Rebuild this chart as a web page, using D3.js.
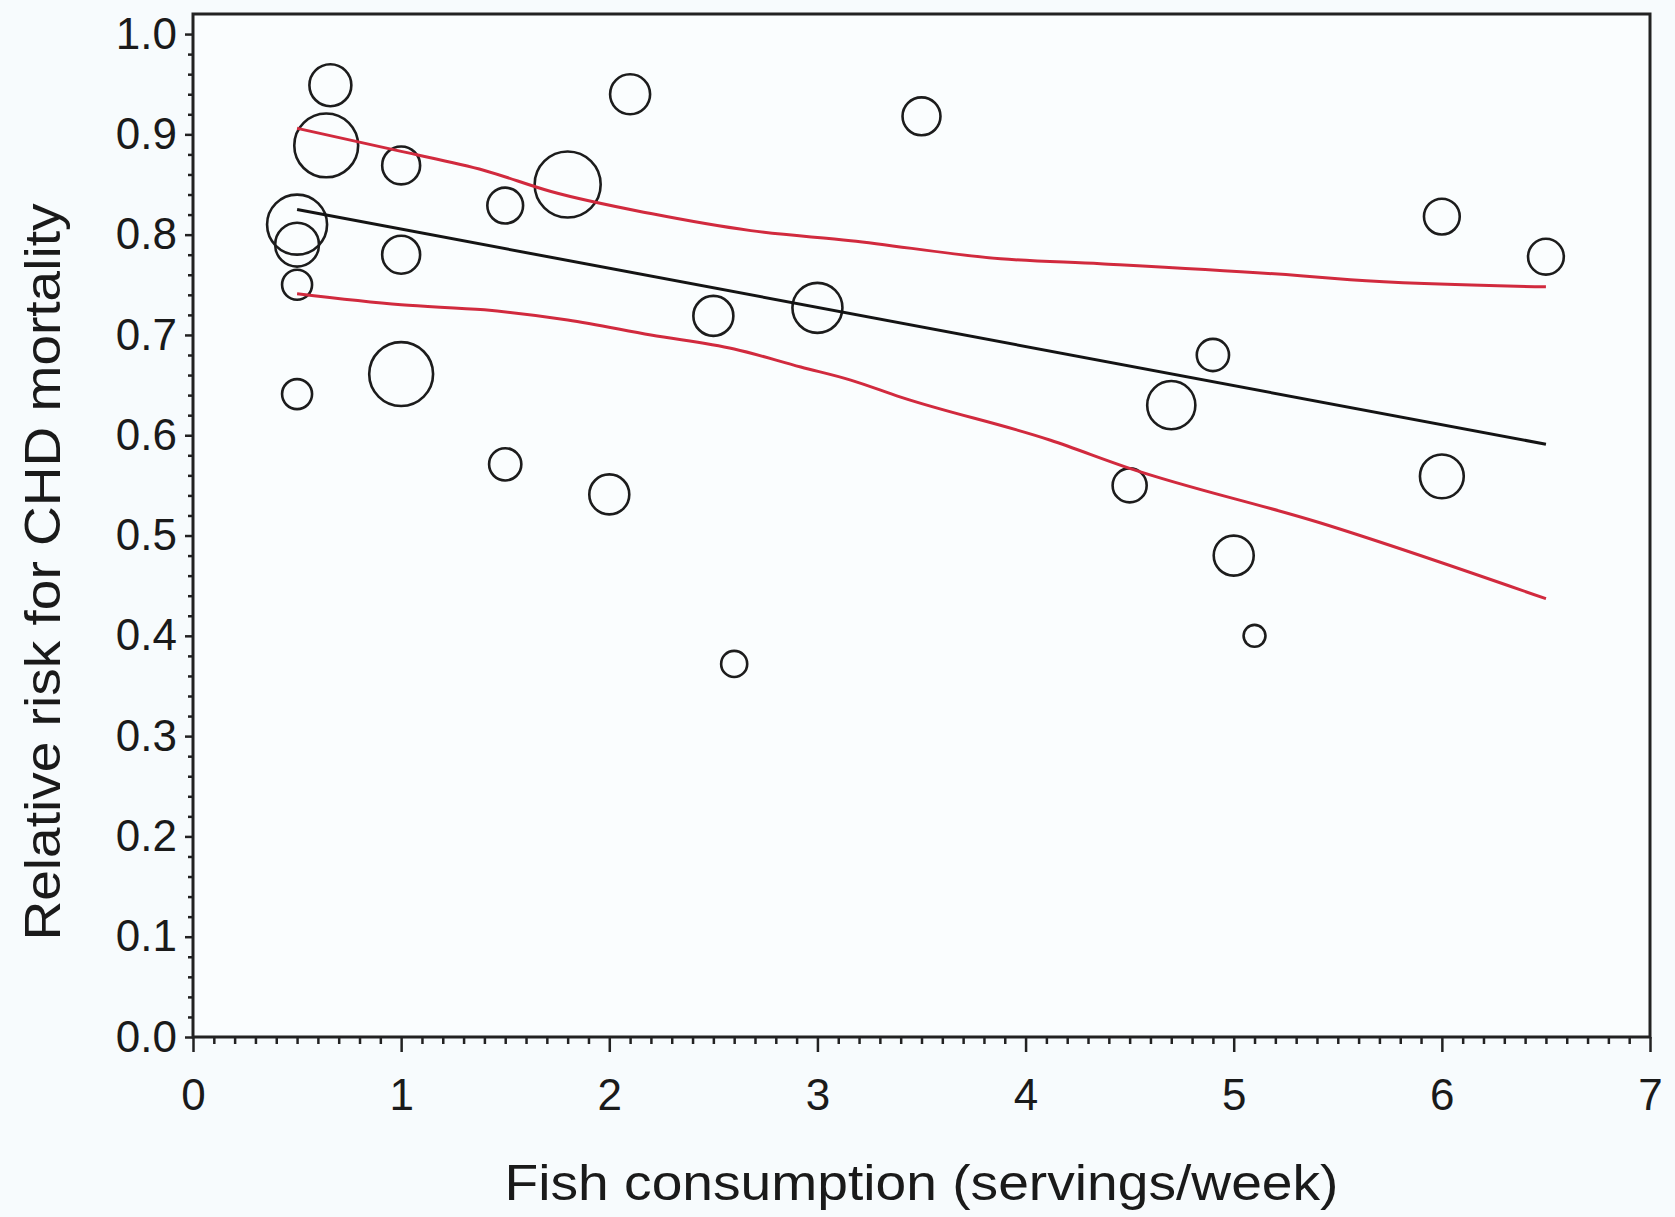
<!DOCTYPE html>
<html><head><meta charset="utf-8">
<script src="https://cdn.jsdelivr.net/npm/d3@7"></script>
<style>
html,body{margin:0;padding:0;background:#f7fbfd;}
svg{display:block;}
</style>
</head><body>
<svg id="chart" width="1675" height="1217"></svg>
<script>
// ---- data ----
const studyX      = [0.66, 0.64, 1.0, 1.5, 1.8, 0.5, 0.5, 0.5, 1.0, 1.0, 0.5, 2.1, 2.5, 3.0, 1.5, 2.0, 2.6, 3.5, 4.9, 4.7, 4.5, 6.0, 5.0, 5.1, 6.0, 6.5];
const studyRR     = [0.949, 0.889, 0.869, 0.829, 0.850, 0.810, 0.790, 0.750, 0.780, 0.661, 0.641, 0.940, 0.719, 0.727, 0.571, 0.541, 0.372, 0.918, 0.680, 0.630, 0.550, 0.559, 0.480, 0.400, 0.818, 0.778];
const studyWeight = [4.4, 10.2, 3.6, 3.2, 10.9, 9.0, 4.8, 2.25, 3.6, 10.2, 2.25, 4.0, 4.0, 6.25, 2.6, 4.0, 1.7, 3.6, 2.6, 5.8, 2.9, 4.8, 4.0, 1.2, 3.2, 3.2];

const fitX   = [0.5, 6.5];
const fitRR  = [0.825, 0.591];
const upperX  = [0.5, 1.0, 1.4, 1.72, 2.2, 2.68, 3.16, 3.88, 4.36, 5.32, 5.56, 6.5];
const upperRR = [0.906, 0.883, 0.864, 0.843, 0.821, 0.804, 0.794, 0.776, 0.771, 0.759, 0.755, 0.748];
const lowerX  = [0.5, 1.0, 1.4, 1.8, 2.2, 2.6, 2.92, 3.16, 3.4, 4.12, 4.5, 5.41, 6.5];
const lowerRR = [0.741, 0.730, 0.725, 0.715, 0.700, 0.686, 0.668, 0.655, 0.638, 0.595, 0.567, 0.513, 0.437];

const xTickValues = [0, 1, 2, 3, 4, 5, 6, 7];
const yTickValues = [0.0, 0.1, 0.2, 0.3, 0.4, 0.5, 0.6, 0.7, 0.8, 0.9, 1.0];
const xTitle = "Fish consumption (servings/week)";
const yTitle = "Relative risk for CHD mortality";

// ---- layout ----
const svg = d3.select("#chart");
const plotLeft = 193, plotRight = 1650, plotTop = 14, plotBottom = 1037;
const x = d3.scaleLinear().domain([0, 7]).range([plotLeft, plotRight]);
const y = d3.scaleLinear().domain([0, 1.02]).range([plotBottom, plotTop]);
const r = d3.scaleSqrt().domain([0, 10]).range([0, 10 * Math.sqrt(10)]);

const font = "'Liberation Sans', Arial, Helvetica, sans-serif";

svg.append("rect").attr("width", 1675).attr("height", 1217).attr("fill", "#f7fbfd");
svg.append("rect").attr("x", plotLeft).attr("y", plotTop).attr("width", plotRight - plotLeft).attr("height", plotBottom - plotTop)
  .attr("fill", "#fafdfe");

// minor ticks
const xMinor = d3.range(0, 71, 1).map(d => d / 10).filter(d => Math.abs(d - Math.round(d)) > 1e-6);
const yMinor = d3.range(0, 51, 1).map(d => d / 50).filter(d => Math.abs(d * 10 - Math.round(d * 10)) > 1e-6);

const gxMinor = svg.append("g").attr("transform", `translate(0,${plotBottom})`)
  .call(d3.axisBottom(x).tickValues(xMinor).tickSize(7).tickFormat(""));
const gyMinor = svg.append("g").attr("transform", `translate(${plotLeft},0)`)
  .call(d3.axisLeft(y).tickValues(yMinor).tickSize(5).tickFormat(""));
[gxMinor, gyMinor].forEach(g => {
  g.select(".domain").remove();
  g.selectAll("line").attr("stroke", "#222").attr("stroke-width", 2.5);
});

// major axes
const gx = svg.append("g").attr("transform", `translate(0,${plotBottom})`)
  .call(d3.axisBottom(x).tickValues(xTickValues).tickSize(15).tickPadding(27).tickFormat(d3.format("d")));
const gy = svg.append("g").attr("transform", `translate(${plotLeft},0)`)
  .call(d3.axisLeft(y).tickValues(yTickValues).tickSize(8).tickPadding(8).tickFormat(d3.format(".1f")));
[gx, gy].forEach(g => {
  g.select(".domain").remove();
  g.selectAll("line").attr("stroke", "#222").attr("stroke-width", 2.5);
  g.selectAll("text").attr("font-family", font).attr("font-size", 44).attr("fill", "#1a1a1a");
});

// frame
svg.append("rect").attr("x", plotLeft).attr("y", plotTop).attr("width", plotRight - plotLeft).attr("height", plotBottom - plotTop)
  .attr("fill", "none").attr("stroke", "#222").attr("stroke-width", 3);

// bubbles
const studies = studyX.map((d, i) => ({x: d, rr: studyRR[i], w: studyWeight[i]}));
svg.append("g").selectAll("circle").data(studies).join("circle")
  .attr("cx", d => x(d.x)).attr("cy", d => y(d.rr)).attr("r", d => r(d.w))
  .attr("fill", "none").attr("stroke", "#1c1c1c").attr("stroke-width", 2.6);

// lines
const line = d3.line().x(d => x(d[0])).y(d => y(d[1])).curve(d3.curveMonotoneX);
svg.append("path").datum(upperX.map((d, i) => [d, upperRR[i]])).attr("d", line)
  .attr("fill", "none").attr("stroke", "#d12a3e").attr("stroke-width", 3);
svg.append("path").datum(lowerX.map((d, i) => [d, lowerRR[i]])).attr("d", line)
  .attr("fill", "none").attr("stroke", "#d12a3e").attr("stroke-width", 3);
svg.append("path").datum(fitX.map((d, i) => [d, fitRR[i]])).attr("d", line)
  .attr("fill", "none").attr("stroke", "#141414").attr("stroke-width", 3);

// titles
svg.append("text").attr("x", (plotLeft + plotRight) / 2).attr("y", 1200)
  .attr("text-anchor", "middle").attr("font-family", font).attr("font-size", 50).attr("fill", "#1a1a1a")
  .attr("textLength", 834).attr("lengthAdjust", "spacingAndGlyphs")
  .text(xTitle);
svg.append("text").attr("transform", `translate(60,572) rotate(-90)`)
  .attr("text-anchor", "middle").attr("font-family", font).attr("font-size", 50).attr("fill", "#1a1a1a")
  .attr("textLength", 737).attr("lengthAdjust", "spacingAndGlyphs")
  .text(yTitle);
</script>
</body></html>
